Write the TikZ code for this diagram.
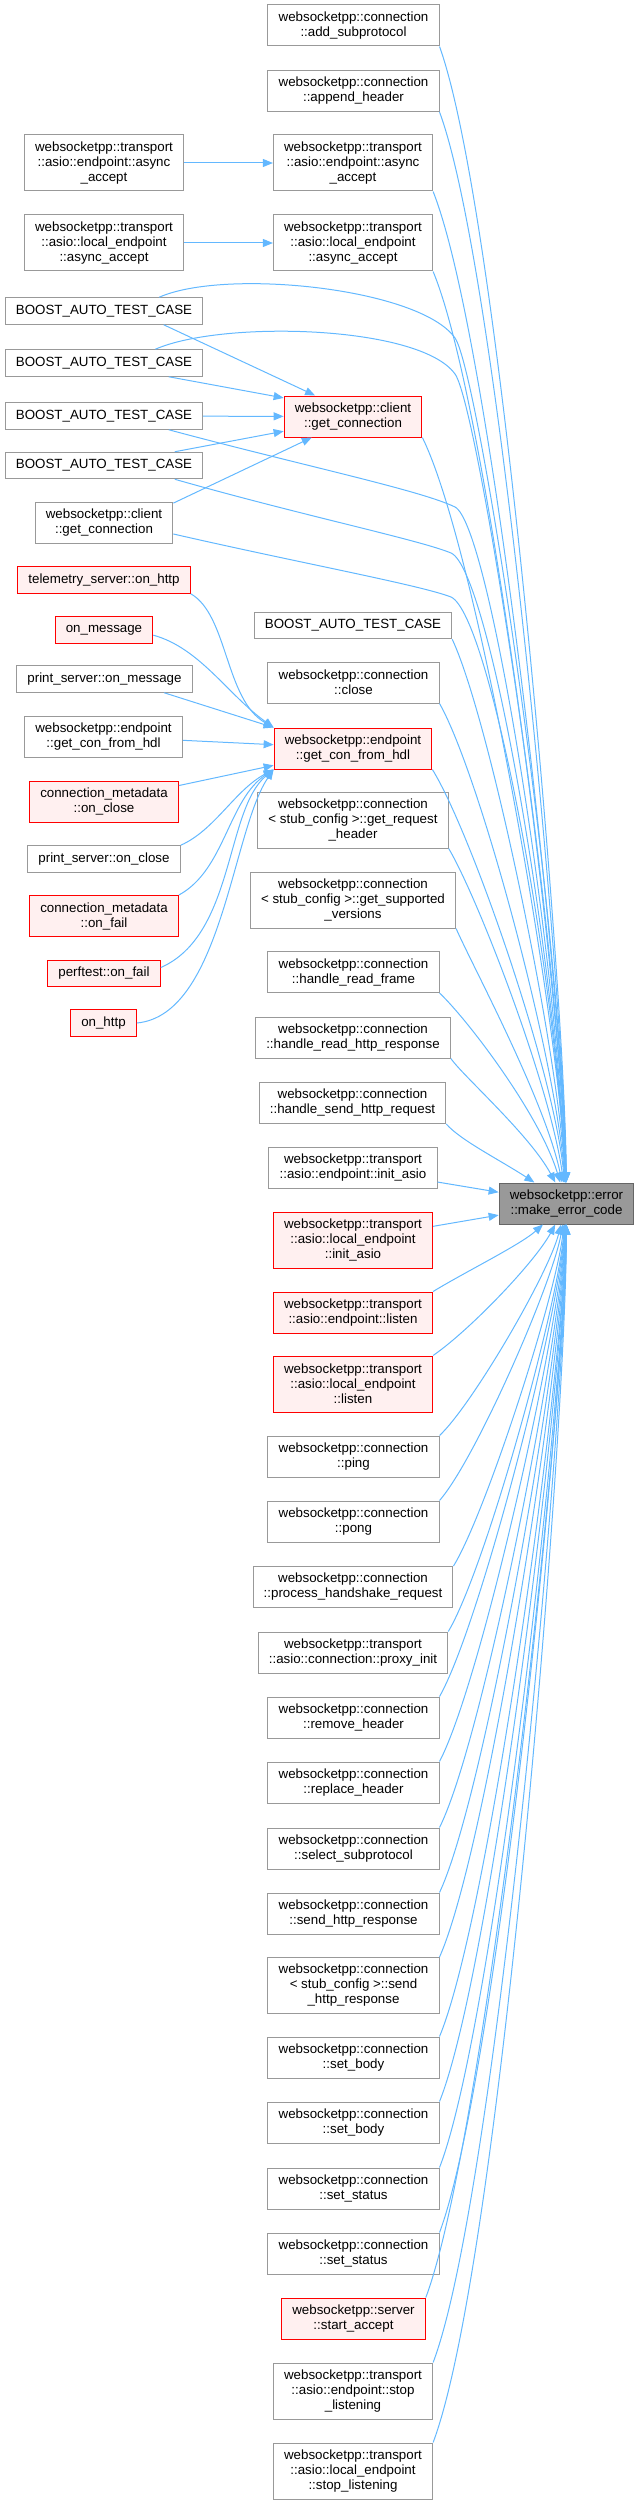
\documentclass[tikz,border=0pt]{standalone}
\usepackage{fontspec}
\setmainfont{Liberation Sans}
\usepackage{xcolor}
\definecolor{EdgeBlue}{RGB}{99,184,255}
\definecolor{FnBorder}{RGB}{153,153,153}
\definecolor{HiBorder}{RGB}{255,0,0}
\definecolor{HiFill}{RGB}{255,240,240}
\definecolor{RootBorder}{RGB}{102,102,102}
\definecolor{RootFill}{RGB}{153,153,153}
\usepackage{tikz}
\usetikzlibrary{
    arrows.meta,
    positioning,
    calc
}
\tikzset{
    fn/.style={
        draw=FnBorder,
        fill=white,
        line width=0.75pt,
        align=center,
        inner xsep=8pt,
        inner ysep=1pt,
        font=\fontsize{10}{11.25}\selectfont
    },
    fnhi/.style={fn, draw=HiBorder, fill=HiFill},
    fnroot/.style={fn, draw=RootBorder, fill=RootFill},
    oneline/.style={minimum height=19.9pt},
    twoline/.style={minimum height=30.75pt},
    threeline/.style={minimum height=42pt},
    call/.style={
        EdgeBlue,
        line width=0.75pt,
        -{Triangle[length=7.5pt,width=6pt]}
    }
}

\begin{document}
\begin{tikzpicture}[x=0.75pt,y=-0.75pt]
%
    \useasboundingbox (0,0) rectangle (638,2504);
%
    % Callee
%
    \node[fnroot, twoline] (errcode) at (566.5,1203.5) {websocketpp::error\\::make\_error\_code};
%
    % Left column
%
    \node[fn, threeline] (asyncaccL) at (104,163) {websocketpp::transport\\::asio::endpoint::async\\\_accept};
    \node[fn, threeline] (localasyncL) at (104,243) {websocketpp::transport\\::asio::local\_endpoint\\::async\_accept};
    \node[fn, oneline] (boostA) at (104,311) {BOOST\_AUTO\_TEST\_CASE};
    \node[fn, oneline] (boostB) at (104,363) {BOOST\_AUTO\_TEST\_CASE};
    \node[fn, oneline] (boostC) at (104,416) {BOOST\_AUTO\_TEST\_CASE};
    \node[fn, oneline] (boostD) at (104,465.5) {BOOST\_AUTO\_TEST\_CASE};
    \node[fn, twoline] (getconnL) at (104,523) {websocketpp::client\\::get\_connection};
    \node[fnhi, oneline] (telemetry) at (104,580) {telemetry\_server::on\_http};
    \node[fnhi, oneline] (onmessage) at (104,630) {on\_message};
    \node[fn, oneline] (printmsg) at (104.5,679) {print\_server::on\_message};
    \node[fn, twoline] (getconL) at (103.5,736.5) {websocketpp::endpoint\\::get\_con\_from\_hdl};
    \node[fnhi, twoline] (metaclose) at (104,801.5) {connection\_metadata\\::on\_close};
    \node[fn, oneline] (printclose) at (104,859) {print\_server::on\_close};
    \node[fnhi, twoline] (metafail) at (104,916) {connection\_metadata\\::on\_fail};
    \node[fnhi, oneline] (perffail) at (104,973.5) {perftest::on\_fail};
    \node[fnhi, oneline] (onhttp) at (103.5,1023) {on\_http};
%
    % Middle column
%
    \node[fn, twoline] (addsub) at (353.5,25.5) {websocketpp::connection\\::add\_subprotocol};
    \node[fn, twoline] (appendhdr) at (353.5,91) {websocketpp::connection\\::append\_header};
    \node[fn, threeline] (asyncacc) at (353,163) {websocketpp::transport\\::asio::endpoint::async\\\_accept};
    \node[fn, threeline] (localasync) at (353,243) {websocketpp::transport\\::asio::local\_endpoint\\::async\_accept};
    \node[fnhi, twoline] (getconn) at (353,416.5) {websocketpp::client\\::get\_connection};
    \node[fn, oneline] (boostE) at (353,625.5) {BOOST\_AUTO\_TEST\_CASE};
    \node[fn, twoline] (close) at (353.5,682.5) {websocketpp::connection\\::close};
    \node[fnhi, twoline] (getcon) at (353,748.5) {websocketpp::endpoint\\::get\_con\_from\_hdl};
    \node[fn, threeline] (getreqhdr) at (353,820) {websocketpp::connection\\< stub\_config >::get\_request\\\_header};
    \node[fn, threeline] (getsupp) at (353,900) {websocketpp::connection\\< stub\_config >::get\_supported\\\_versions};
    \node[fn, twoline] (readframe) at (353.5,972) {websocketpp::connection\\::handle\_read\_frame};
    \node[fn, twoline] (readresp) at (353,1037.5) {websocketpp::connection\\::handle\_read\_http\_response};
    \node[fn, twoline] (sendreq) at (352.5,1103) {websocketpp::connection\\::handle\_send\_http\_request};
    \node[fn, twoline] (initasio) at (353,1168) {websocketpp::transport\\::asio::endpoint::init\_asio};
    \node[fnhi, threeline] (localinit) at (353,1240) {websocketpp::transport\\::asio::local\_endpoint\\::init\_asio};
    \node[fnhi, twoline] (listen) at (353,1312.5) {websocketpp::transport\\::asio::endpoint::listen};
    \node[fnhi, threeline] (locallisten) at (353,1384) {websocketpp::transport\\::asio::local\_endpoint\\::listen};
    \node[fn, twoline] (ping) at (353.5,1456.5) {websocketpp::connection\\::ping};
    \node[fn, twoline] (pong) at (353.5,1521.5) {websocketpp::connection\\::pong};
    \node[fn, twoline] (handshake) at (353,1587) {websocketpp::connection\\::process\_handshake\_request};
    \node[fn, twoline] (proxyinit) at (353,1652.5) {websocketpp::transport\\::asio::connection::proxy\_init};
    \node[fn, twoline] (removehdr) at (353.5,1717.5) {websocketpp::connection\\::remove\_header};
    \node[fn, twoline] (replacehdr) at (353.5,1782.5) {websocketpp::connection\\::replace\_header};
    \node[fn, twoline] (selectsub) at (353.5,1848.5) {websocketpp::connection\\::select\_subprotocol};
    \node[fn, twoline] (sendresp) at (353.5,1913.5) {websocketpp::connection\\::send\_http\_response};
    \node[fn, threeline] (stubsend) at (353.5,1985.5) {websocketpp::connection\\< stub\_config >::send\\\_http\_response};
    \node[fn, twoline] (setbodyA) at (353.5,2057.5) {websocketpp::connection\\::set\_body};
    \node[fn, twoline] (setbodyB) at (353.5,2122.5) {websocketpp::connection\\::set\_body};
    \node[fn, twoline] (setstatusA) at (353.5,2188.5) {websocketpp::connection\\::set\_status};
    \node[fn, twoline] (setstatusB) at (353.5,2253.5) {websocketpp::connection\\::set\_status};
    \node[fnhi, twoline] (startacc) at (353.5,2318.5) {websocketpp::server\\::start\_accept};
    \node[fn, threeline] (stoplisten) at (353,2391) {websocketpp::transport\\::asio::endpoint::stop\\\_listening};
    \node[fn, threeline] (localstop) at (353,2471) {websocketpp::transport\\::asio::local\_endpoint\\::stop\_listening};
%
    % Left to middle
%
    \draw[call] (asyncaccL) -- (asyncacc);
    \draw[call] (localasyncL) -- (localasync);
    \draw[call] (boostA.-13) -- (getconn.151);
    \draw[call] (boostB.-12) -- (getconn.165);
    \draw[call] (boostC) -- (getconn);
    \draw[call] (boostD.11) -- (getconn.192);
    \draw[call] (getconnL.16) -- (getconn.207);
%
    \draw[call] (telemetry.south east) .. controls (228,615) and (225,700) .. (getcon.north west);
    \draw[call] (onmessage.-6) .. controls (200,648) and (228,695) .. (getcon.north west);
    \draw[call] (printmsg.-13) -- (getcon.north west);
    \draw[call] (getconL) -- (getcon);
    \draw[call] (metaclose) -- (getcon);
    \draw[call] (printclose.north east) .. controls (215,830) and (235,790) .. (getcon.south west);
    \draw[call] (metafail.north east) .. controls (225,870) and (228,800) .. (getcon.south west);
    \draw[call] (perffail.6) .. controls (235,935) and (225,810) .. (getcon.south west);
    \draw[call] (onhttp.east) .. controls (222,1015) and (232,830) .. (getcon.south west);
%
    % Left to callee
%
    \draw[call] (boostA.14) .. controls (225,268) and (420,288) .. (455,338)
        .. controls (478,370) and (560,900) .. (errcode);
    \draw[call] (boostB.15) .. controls (222,320) and (420,325) .. (455,374)
        .. controls (478,405) and (558,920) .. (errcode);
    \draw[call] (boostC.-12) .. controls (300,465) and (420,490) .. (455,507)
        .. controls (490,525) and (556,950) .. (errcode);
    \draw[call] (boostD.-11) .. controls (300,515) and (420,540) .. (451,553)
        .. controls (490,570) and (555,960) .. (errcode);
    \draw[call] (getconnL.-9) .. controls (300,563) and (420,585) .. (451,597)
        .. controls (490,615) and (555,970) .. (errcode);
%
    % Middle to callee, from above
%
    \draw[call] (addsub.south east) .. controls (500,215) and (565,990) .. (errcode);
    \draw[call] (appendhdr.south east) .. controls (498,270) and (564,995) .. (errcode);
    \draw[call] (asyncacc.south east) .. controls (492,340) and (563,1000) .. (errcode);
    \draw[call] (localasync.south east) .. controls (490,408) and (562,1010) .. (errcode);
    \draw[call] (getconn.south east) .. controls (478,550) and (560,1030) .. (errcode);
    \draw[call] (boostE.south east) .. controls (490,720) and (558,1050) .. (errcode);
    \draw[call] (close.south east) .. controls (480,775) and (556,1060) .. (errcode);
    \draw[call] (getcon.south east) .. controls (470,830) and (554,1070) .. (errcode);
    \draw[call] (getreqhdr.south east) .. controls (478,898) and (550,1085) .. (errcode);
    \draw[call] (getsupp.south east) .. controls (472,965) and (545,1100) .. (errcode);
    \draw[call] (readframe.south east) .. controls (468,1020) and (540,1115) .. (errcode);
    \draw[call] (readresp.south east) .. controls (462,1075) and (530,1135) .. (errcode);
    \draw[call] (sendreq.south east) .. controls (460,1140) and (500,1160) .. (errcode);
    \draw[call] (initasio) -- (errcode);
%
    % Middle to callee, from below
%
    \draw[call] (localinit) -- (errcode);
    \draw[call] (listen.north east) .. controls (465,1272) and (520,1245) .. (errcode);
    \draw[call] (locallisten.north east) .. controls (470,1330) and (535,1262) .. (errcode);
    \draw[call] (ping.north east) .. controls (472,1405) and (548,1275) .. (errcode);
    \draw[call] (pong.north east) .. controls (475,1460) and (552,1285) .. (errcode);
    \draw[call] (handshake.north east) .. controls (485,1515) and (555,1300) .. (errcode);
    \draw[call] (proxyinit.north east) .. controls (485,1570) and (557,1310) .. (errcode);
    \draw[call] (removehdr.north east) .. controls (480,1625) and (558,1320) .. (errcode);
    \draw[call] (replacehdr.north east) .. controls (482,1680) and (559,1330) .. (errcode);
    \draw[call] (selectsub.north east) .. controls (484,1738) and (560,1340) .. (errcode);
    \draw[call] (sendresp.north east) .. controls (486,1793) and (561,1350) .. (errcode);
    \draw[call] (stubsend.north east) .. controls (488,1848) and (562,1360) .. (errcode);
    \draw[call] (setbodyA.north east) .. controls (490,1915) and (563,1370) .. (errcode);
    \draw[call] (setbodyB.north east) .. controls (492,1970) and (563,1380) .. (errcode);
    \draw[call] (setstatusA.north east) .. controls (494,2027) and (564,1390) .. (errcode);
    \draw[call] (setstatusB.north east) .. controls (496,2082) and (564,1400) .. (errcode);
    \draw[call] (startacc.north east) .. controls (485,2140) and (565,1410) .. (errcode);
    \draw[call] (stoplisten.north east) .. controls (495,2200) and (565,1420) .. (errcode);
    \draw[call] (localstop.north east) .. controls (500,2265) and (566,1430) .. (errcode);
%
\end{tikzpicture}
\end{document}
